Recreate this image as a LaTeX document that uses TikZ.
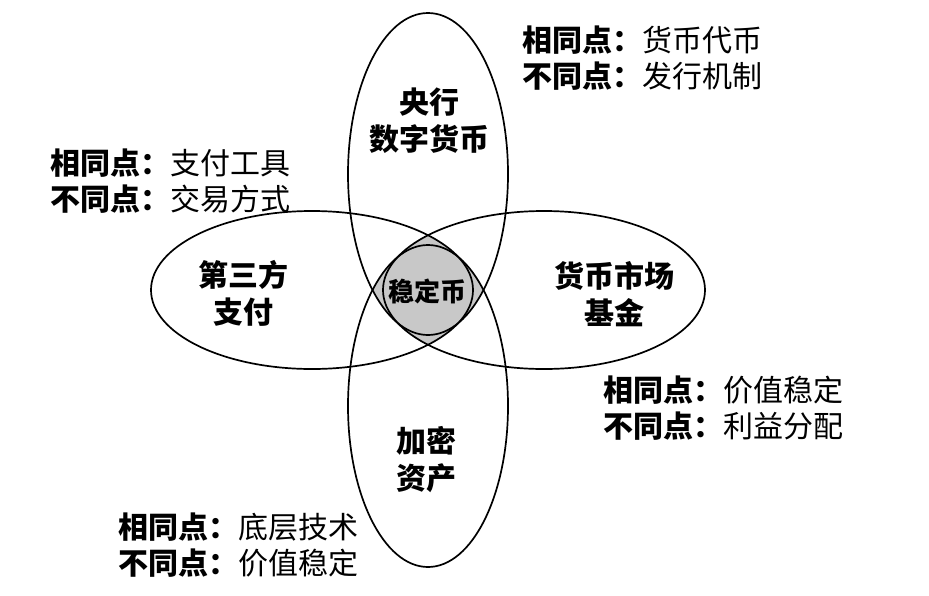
\documentclass[tikz,border=0pt]{standalone}
\usepackage{fontspec}
\newfontfamily\cjk{Noto Sans CJK SC}
\definecolor{lensgray}{RGB}{200,200,200}
\begin{document}
\begin{tikzpicture}[x=1pt,y=-1pt,
  venn/.style={line width=1.7pt, draw=black},
  lbl/.style={font=\cjk\bfseries\fontsize{30}{37}\selectfont, align=center, inner sep=0pt},
  note/.style={font=\cjk\fontsize{30}{36}\selectfont, align=left, anchor=west, inner sep=0pt},
]
\useasboundingbox (0,0) rectangle (929,595);
% gray centre: union of the two lenses
\begin{scope}
  \clip (428,174) ellipse [x radius=80pt, y radius=161pt];
  \fill[lensgray] (428,406) ellipse [x radius=80pt, y radius=161pt];
\end{scope}
\begin{scope}
  \clip (312,290) ellipse [x radius=161pt, y radius=79pt];
  \fill[lensgray] (544,290) ellipse [x radius=161pt, y radius=79pt];
\end{scope}
% four ellipses
\draw[venn] (428,174) ellipse [x radius=80pt, y radius=161pt];
\draw[venn] (428,406) ellipse [x radius=80pt, y radius=161pt];
\draw[venn] (312,290) ellipse [x radius=161pt, y radius=79pt];
\draw[venn] (544,290) ellipse [x radius=161pt, y radius=79pt];
% labels inside
\node[lbl] (cbdc) at (429,120.5) {央行\\数字货币};
\node[lbl] (tpp) at (243,293.5) {第三方\\支付};
\node[lbl, font=\cjk\bfseries\fontsize{26}{30}\selectfont] (stable) at (427.5,291) {稳定币};
\node[lbl] (mmf) at (614,294.5) {货币市场\\基金};
\node[lbl] (crypto) at (426,459.5) {加密\\资产};
% notes
\node[note] (n1) at (522,58) {{\bfseries 相同点：}货币代币\\{\bfseries 不同点：}发行机制};
\node[note] (n2) at (50,181) {{\bfseries 相同点：}支付工具\\{\bfseries 不同点：}交易方式};
\node[note] (n3) at (603,408) {{\bfseries 相同点：}价值稳定\\{\bfseries 不同点：}利益分配};
\node[note] (n4) at (118,545.5) {{\bfseries 相同点：}底层技术\\{\bfseries 不同点：}价值稳定};
\end{tikzpicture}
\end{document}
